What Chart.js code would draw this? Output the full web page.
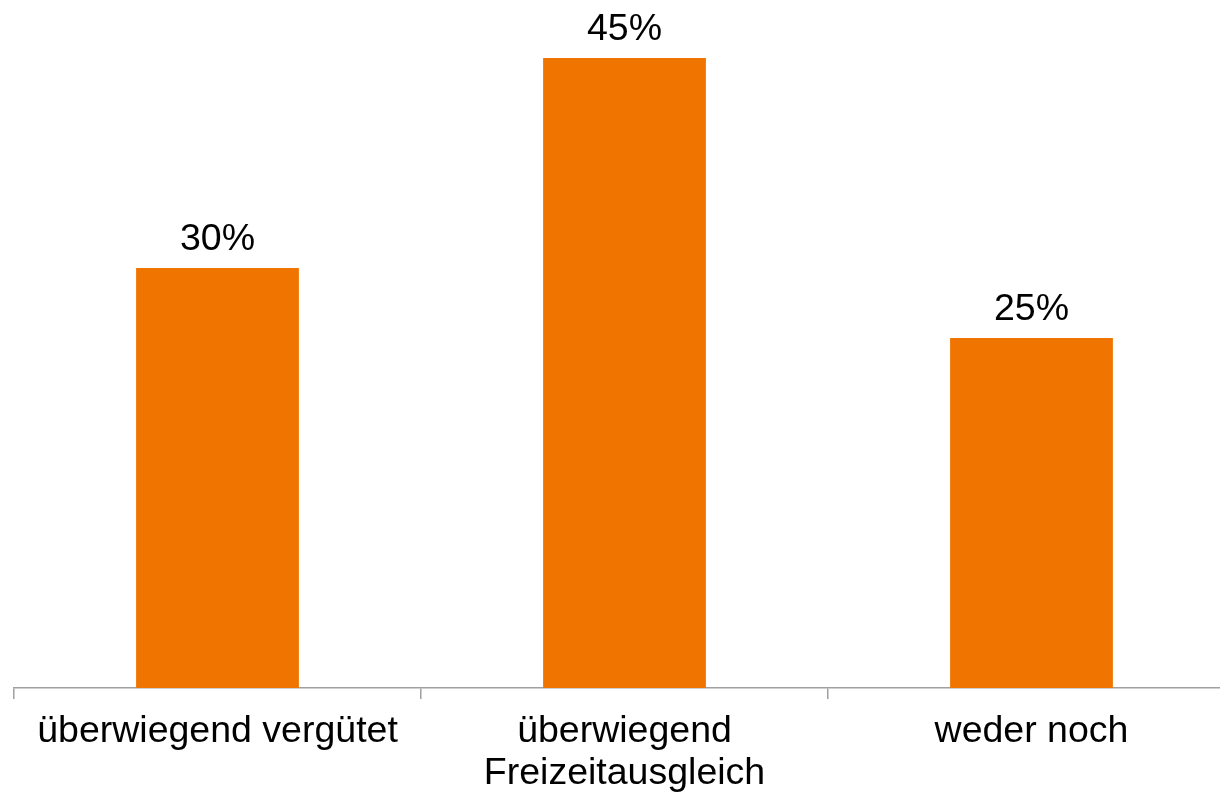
<!DOCTYPE html>
<html>
<head>
<meta charset="utf-8">
<script src="https://cdn.jsdelivr.net/npm/chart.js@4"></script>
<style>
  html, body { margin: 0; padding: 0; background: #fff; overflow: hidden; }
  #wrap { width: 1240px; height: 796px; }
</style>
</head>
<body>
<div id="wrap"><canvas id="chart" width="1240" height="796"></canvas></div>
<script>
const categories = ["überwiegend vergütet", ["überwiegend", "Freizeitausgleich"], "weder noch"];
const shares = [30, 45, 25];
const valueLabels = ["30%", "45%", "25%"];

const fontFamily = '"Liberation Sans", Arial, sans-serif';

// percent labels above the bars
const barLabels = {
  id: "barLabels",
  afterDatasetsDraw(chart) {
    const ctx = chart.ctx;
    const meta = chart.getDatasetMeta(0);
    ctx.save();
    ctx.font = `37.5px ${fontFamily}`;
    ctx.fillStyle = "#000";
    ctx.textAlign = "center";
    ctx.textBaseline = "alphabetic";
    meta.data.forEach((bar, i) => {
      ctx.fillText(valueLabels[i], bar.x, bar.y - 18);
    });
    ctx.restore();
  }
};

new Chart(document.getElementById("chart"), {
  type: "bar",
  data: {
    labels: categories,
    datasets: [{
      data: shares,
      backgroundColor: "#F07500",
      borderWidth: 0,
      categoryPercentage: 1,
      barPercentage: 0.4
    }]
  },
  options: {
    responsive: false,
    animation: false,
    layout: { padding: { top: 16, left: 14, right: 5, bottom: 0 } },
    plugins: {
      legend: { display: false },
      tooltip: { enabled: false }
    },
    scales: {
      x: {
        grid: {
          offset: true,
          drawOnChartArea: false,
          drawTicks: true,
          tickLength: 11,
          color: "#a0a0a0",
          lineWidth: 1.5
        },
        border: { display: true, color: "#a0a0a0", width: 1.5 },
        ticks: {
          color: "#000",
          padding: 12,
          maxRotation: 0,
          autoSkip: false,
          font: { family: fontFamily, size: 37.5, lineHeight: 1.12 }
        },
        afterFit(scale) { scale.height = 108; }
      },
      y: {
        display: false,
        min: 0,
        max: 48
      }
    }
  },
  plugins: [barLabels]
});
</script>
</body>
</html>
